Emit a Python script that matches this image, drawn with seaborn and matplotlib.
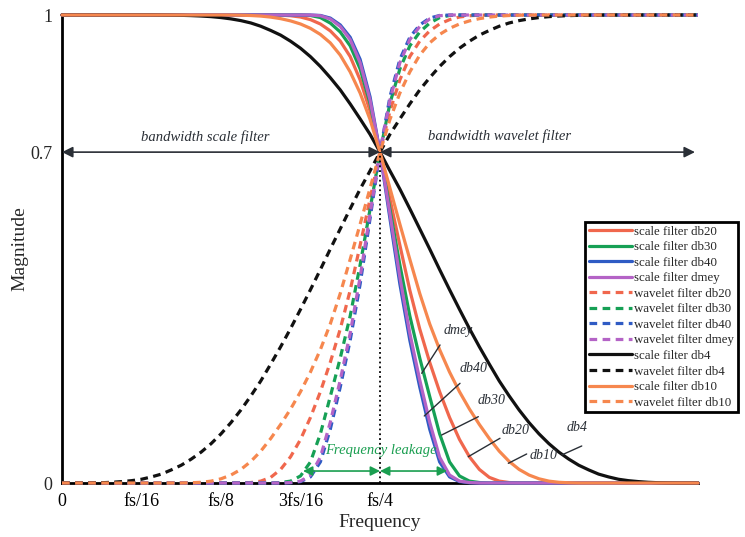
import numpy as np
import matplotlib
matplotlib.use('Agg')
import matplotlib.pyplot as plt
import seaborn as sns

# frequency grid in units of fs (0 .. fs/2, step fs/128)
freq = np.linspace(0, 0.5, 65)

# magnitude of the scale (low-pass) filters
scale_db4 = [1.0] * 10 + [0.9998, 0.9996, 0.9993, 0.9987, 0.9978, 0.9965, 0.9945, 0.9917, 0.988, 0.983,
                          0.976, 0.967, 0.957, 0.944, 0.929, 0.911, 0.890, 0.866, 0.840, 0.810,
                          0.778, 0.745, 0.707, 0.667, 0.628, 0.586, 0.543, 0.500, 0.456, 0.413,
                          0.371, 0.330, 0.291, 0.254, 0.218, 0.186, 0.156, 0.129, 0.105, 0.084,
                          0.066, 0.051, 0.038, 0.028, 0.019, 0.013, 0.008, 0.005, 0.003, 0.0015,
                          0.0006, 0.0002, 0.0, 0.0, 0.0]
scale_db10 = [1.0] * 17 + [0.9999, 0.9996, 0.9989, 0.9977, 0.9955, 0.9922, 0.9874, 0.9808, 0.9715, 0.9585,
                           0.9404, 0.9143, 0.8784, 0.8332, 0.7767, 0.707, 0.630, 0.553, 0.478, 0.405,
                           0.340, 0.285, 0.237, 0.195, 0.158, 0.125, 0.095, 0.068, 0.046, 0.029,
                           0.017, 0.009, 0.004, 0.0015, 0.0005] + [0.0] * 13
scale_db20 = [1.0] * 21 + [0.9999, 0.9996, 0.9984, 0.9957, 0.9901, 0.9808, 0.9661, 0.9443, 0.9112, 0.8614,
                           0.7947, 0.707, 0.607, 0.508, 0.412, 0.329, 0.258, 0.195, 0.140, 0.093,
                           0.056, 0.029, 0.012, 0.004, 0.001] + [0.0] * 19
scale_db30 = [1.0] * 24 + [0.9999, 0.999, 0.9945, 0.9827, 0.9637, 0.9341, 0.8848, 0.811, 0.707, 0.585,
                           0.466, 0.357, 0.267, 0.185, 0.105, 0.045, 0.015, 0.004, 0.001] + [0.0] * 22
scale_db40 = [1.0] * 25 + [0.9999, 0.999, 0.9934, 0.9788, 0.9524, 0.9052, 0.8251, 0.707, 0.565, 0.425,
                           0.305, 0.205, 0.115, 0.045, 0.013, 0.003, 0.0005] + [0.0] * 23
scale_dmey = [1.0] * 25 + [0.9999, 0.9985, 0.9915, 0.9755, 0.9474, 0.898, 0.8182, 0.707, 0.575, 0.44,
                           0.32, 0.22, 0.13, 0.055, 0.017, 0.004, 0.001] + [0.0] * 23

# wavelet (high-pass) filters are the mirror images about fs/4
wav_db4 = scale_db4[::-1]
wav_db10 = scale_db10[::-1]
wav_db20 = scale_db20[::-1]
wav_db30 = scale_db30[::-1]
wav_db40 = scale_db40[::-1]
wav_dmey = scale_dmey[::-1]

xtick_pos = [0, 1 / 16, 1 / 8, 3 / 16, 1 / 4]
xtick_labels = ['0', 'fs/16', 'fs/8', '3fs/16', 'fs/4']
ytick_pos = [0, 0.707, 1]
ytick_labels = ['0', '0.7', '1']

c_db20 = '#F0674D'
c_db30 = '#16A055'
c_db40 = '#2F5BC4'
c_dmey = '#B463C6'
c_db4 = '#111111'
c_db10 = '#F6874E'

sns.set_style('white')
plt.rcParams['font.family'] = ['Liberation Serif', 'DejaVu Serif']

fig = plt.figure(figsize=(7.45, 5.37), dpi=100)
ax = fig.add_axes([62 / 745, 54 / 537, 636 / 745, 468 / 537])

curves = [
    ('scale filter db20', scale_db20, c_db20, False),
    ('scale filter db30', scale_db30, c_db30, False),
    ('scale filter db40', scale_db40, c_db40, False),
    ('scale filter dmey', scale_dmey, c_dmey, False),
    ('wavelet filter db20', wav_db20, c_db20, True),
    ('wavelet filter db30', wav_db30, c_db30, True),
    ('wavelet filter db40', wav_db40, c_db40, True),
    ('wavelet filter dmey', wav_dmey, c_dmey, True),
    ('scale filter db4', scale_db4, c_db4, False),
    ('wavelet filter db4', wav_db4, c_db4, True),
    ('scale filter db10', scale_db10, c_db10, False),
    ('wavelet filter db10', wav_db10, c_db10, True),
]

for lab, vals, col, dashed in curves:
    ls = (0, (2.4, 1.7)) if dashed else '-'
    sns.lineplot(x=freq, y=vals, color=col, linestyle=ls, linewidth=2.3, label=lab,
                 legend=False, ax=ax, clip_on=False, zorder=3)
handles = list(ax.get_lines())

ax.set_xlim(0, 0.5)
ax.set_ylim(0, 1)
for s in ['top', 'right']:
    ax.spines[s].set_visible(False)
for s in ['left', 'bottom']:
    ax.spines[s].set_linewidth(2)
    ax.spines[s].set_color('black')

ax.set_xticks(xtick_pos)
ax.set_xticklabels(xtick_labels)
ax.set_yticks(ytick_pos)
ax.set_yticklabels(ytick_labels)
ax.tick_params(axis='x', direction='in', length=5, width=1.5, labelsize=13, pad=7, colors='black')
ax.tick_params(axis='y', length=0, labelsize=13, pad=7)
ax.set_xlabel('Frequency', fontsize=14, labelpad=3)
ax.set_ylabel('Magnitude', fontsize=14, labelpad=1)

# dotted marker at fs/4
ax.vlines(0.25, 0, 0.707, colors='black', linestyles=':', linewidth=1.3, zorder=4)

# bandwidth arrows
arr = dict(arrowstyle='<|-|>', color='#2a2f36', lw=1.2, mutation_scale=16, shrinkA=0, shrinkB=0)
ax.annotate('', xy=(0.0, 0.707), xytext=(0.25, 0.707), arrowprops=arr)
ax.annotate('', xy=(0.25, 0.707), xytext=(0.4976, 0.707), arrowprops=arr)
ax.text(0.1124, 0.739, 'bandwidth scale filter', style='italic', fontsize=10.5,
        ha='center', va='center', color='#2a2f36')
ax.text(0.3443, 0.741, 'bandwidth wavelet filter', style='italic', fontsize=10.5,
        ha='center', va='center', color='#2a2f36')

# frequency leakage
c_leak = '#1A9E50'
arr_g = dict(arrowstyle='<|-|>', color=c_leak, lw=1.2, mutation_scale=14, shrinkA=0, shrinkB=0)
ax.annotate('', xy=(0.1895, 0.0256), xytext=(0.25, 0.0256), arrowprops=arr_g)
ax.annotate('', xy=(0.25, 0.0256), xytext=(0.3027, 0.0256), arrowprops=arr_g)
ax.text(0.2508, 0.0705, 'Frequency leakage', style='italic', fontsize=10.5,
        ha='center', va='center', color=c_leak)

# curve name pointers: (text, text pos, line start, line end, ha, va)
pointers = [
    ('dmey', (0.3003, 0.312), (0.2972, 0.2949), (0.2828, 0.2344), 'left', 'bottom'),
    ('db40', (0.3129, 0.2308), (0.3129, 0.2130), (0.2848, 0.1432), 'left', 'bottom'),
    ('db30', (0.3270, 0.1624), (0.3273, 0.1417), (0.2985, 0.1026), 'left', 'bottom'),
    ('db20', (0.3459, 0.0983), (0.3443, 0.0955), (0.3194, 0.0562), 'left', 'bottom'),
    ('db10', (0.3679, 0.0598), (0.3653, 0.0620), (0.3509, 0.0421), 'left', 'center'),
    ('db4', (0.4049, 0.1047), (0.4086, 0.0791), (0.3928, 0.0598), 'center', 'bottom'),
]
for name, tpos, p0, p1, ha, va in pointers:
    ax.annotate('', xy=p1, xytext=p0,
                arrowprops=dict(arrowstyle='-', color='#2a2f36', lw=1.0, shrinkA=0, shrinkB=0))
    ax.text(tpos[0], tpos[1], name, style='italic', fontsize=10, ha=ha, va=va, color='#2a2f36')

leg = ax.legend(handles=handles, labels=[c[0] for c in curves], loc='upper left',
                bbox_to_anchor=(0.823, 0.558), fontsize=9.3, handlelength=3.3,
                handletextpad=0.15, labelspacing=0.27, borderpad=0.3, borderaxespad=0,
                fancybox=False, framealpha=1, edgecolor='black')
leg.get_frame().set_linewidth(2)

fig.savefig('out.png', dpi=100)
